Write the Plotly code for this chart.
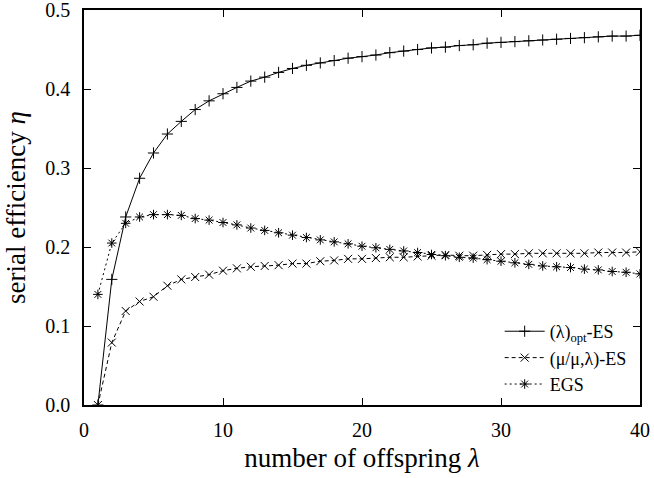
import plotly.graph_objects as go

lam = list(range(1, 41))
opt_es = [0.0, 0.159, 0.238, 0.287, 0.319, 0.343, 0.359, 0.374, 0.385, 0.394,
          0.402, 0.410, 0.415, 0.421, 0.426, 0.430, 0.433, 0.436, 0.439, 0.441,
          0.443, 0.446, 0.448, 0.450, 0.452, 0.453, 0.455, 0.456, 0.458, 0.459,
          0.460, 0.461, 0.462, 0.463, 0.464, 0.465, 0.466, 0.467, 0.467, 0.468]
mu_es = [0.0, 0.079, 0.119, 0.131, 0.137, 0.151, 0.159, 0.162, 0.165, 0.170,
         0.173, 0.175, 0.176, 0.177, 0.179, 0.179, 0.182, 0.183, 0.185, 0.185,
         0.186, 0.187, 0.187, 0.188, 0.189, 0.190, 0.189, 0.189, 0.190, 0.191,
         0.191, 0.192, 0.192, 0.192, 0.192, 0.192, 0.193, 0.193, 0.193, 0.194]
egs = [0.140, 0.205, 0.230, 0.238, 0.241, 0.241, 0.240, 0.236, 0.234, 0.231,
       0.228, 0.224, 0.221, 0.218, 0.215, 0.212, 0.209, 0.2065, 0.204, 0.201,
       0.199, 0.197, 0.195, 0.193, 0.1905, 0.189, 0.187, 0.186, 0.184, 0.182,
       0.180, 0.178, 0.176, 0.175, 0.174, 0.172, 0.171, 0.169, 0.168, 0.166]

names = ["(λ)<sub>opt</sub>-ES", "(μ/μ,λ)-ES", "EGS"]
series = [opt_es, mu_es, egs]
dashes = ["solid", "4px,3px", "2px,3px"]
symbols = ["cross-thin-open", "x-thin-open", "asterisk-open"]

FONT = "Liberation Serif"

fig = go.Figure()
for name, ys, dash, sym in zip(names, series, dashes, symbols):
    fig.add_trace(go.Scatter(
        x=lam, y=ys, name=name, mode="lines+markers",
        line=dict(color="black", width=1, dash=dash),
        marker=dict(symbol=sym, size=8, color="black",
                    line=dict(color="black", width=1)),
    ))

axis_common = dict(
    showline=True, linecolor="black", linewidth=1.5, mirror="ticks",
    ticks="inside", ticklen=7, tickcolor="black", tickwidth=1,
    showgrid=False, zeroline=False, automargin=False,
    ticklabeloverflow="allow",
    tickfont=dict(family=FONT, size=20, color="black"),
)

fig.update_layout(
    width=654, height=478,
    margin=dict(l=84, r=14, t=10, b=73),
    paper_bgcolor="white", plot_bgcolor="white",
    font=dict(family=FONT, size=20, color="black"),
    xaxis=dict(range=[0, 40], tickvals=[0, 10, 20, 30, 40],
               ticklabelstandoff=6,
               title=dict(text="number of offspring <i>λ</i>", standoff=8,
                          font=dict(family=FONT, size=27)),
               **axis_common),
    yaxis=dict(range=[0, 0.5], tickvals=[0, 0.1, 0.2, 0.3, 0.4, 0.5],
               tickformat=".1f", ticklabelstandoff=8,
               title=dict(text="serial efficiency <i>η</i>", standoff=12,
                          font=dict(family=FONT, size=27)),
               **axis_common),
    legend=dict(x=0.985, y=0.005, xanchor="right", yanchor="bottom",
                bgcolor="rgba(0,0,0,0)", font=dict(family=FONT, size=18),
                tracegroupgap=0, itemwidth=40),
    showlegend=True,
)

fig.write_html("out.html")
